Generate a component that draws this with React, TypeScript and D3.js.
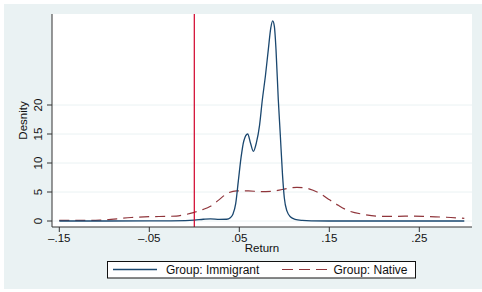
import React from "react";
import * as d3 from "d3";

// kernel density estimates
const immigrantX = [-0.15, -0.1, -0.05, -0.01, 0.0, 0.01, 0.018, 0.028, 0.036, 0.04, 0.043, 0.046, 0.049, 0.052, 0.055, 0.0593, 0.0625, 0.0656, 0.069, 0.0725, 0.0756, 0.079, 0.0822, 0.085, 0.0871, 0.089, 0.0908, 0.0933, 0.0955, 0.098, 0.1, 0.103, 0.107, 0.112, 0.12, 0.13, 0.15, 0.2, 0.3];
const immigrantY = [0.0, 0.0, 0.02, 0.08, 0.15, 0.3, 0.38, 0.28, 0.3, 0.55, 1.2, 3, 7, 11, 13.8, 15, 13.4, 12, 13.5, 16.5, 20.9, 25, 29.5, 33.3, 34.5, 33.5, 29.5, 21, 15, 8, 4, 1.7, 0.7, 0.3, 0.1, 0.02, 0, 0, 0];

const nativeX = [-0.15, -0.12, -0.105, -0.095, -0.086, -0.07, -0.05, -0.03, -0.02, -0.01, 0.0, 0.01, 0.0174, 0.027, 0.036, 0.047, 0.06, 0.073, 0.085, 0.1, 0.114, 0.125, 0.132, 0.14, 0.1508, 0.16, 0.1693, 0.1878, 0.2063, 0.225, 0.2433, 0.26, 0.28, 0.3];
const nativeY = [0.1, 0.1, 0.15, 0.25, 0.38, 0.6, 0.75, 0.8, 0.85, 1.1, 1.5, 2.0, 2.5, 3.6, 4.7, 5.2, 5.2, 5.05, 5.1, 5.5, 5.8, 5.65, 5.3, 4.7, 3.6, 2.7, 1.9, 1.15, 0.8, 0.8, 0.85, 0.75, 0.65, 0.45];

const xTicks = [-0.15, -0.05, 0.05, 0.15, 0.25];
const xTickLabels = ["\u2013.15", "\u2013.05", ".05", ".15", ".25"];
const yTicks = [0, 5, 10, 15, 20];
const refLine = 0;

const W = 482;
const H = 292;
const plot = { left: 52, right: 472, top: 14, bottom: 227 };
const bg = "#eaf2f3";
const font = "Liberation Sans, Arial, sans-serif";

const App = () => {
  const x = d3.scaleLinear().domain([-0.15, 0.3]).range([59.3, 464.3]);
  const y = d3.scaleLinear().domain([0, 5]).range([221, 192]);
  const line = d3
    .line<[number, number]>()
    .x(d => x(d[0]))
    .y(d => y(d[1]))
    .curve(d3.curveMonotoneX);
  const imm = immigrantX.map((v, i) => [v, immigrantY[i]] as [number, number]);
  const nat = nativeX.map((v, i) => [v, nativeY[i]] as [number, number]);
  const midX = (plot.left + plot.right) / 2;
  const midY = (plot.top + plot.bottom) / 2;

  return (
    <svg width={W} height={H} style={{ position: "absolute", left: 0, top: 0 }} fontFamily={font}>
      <rect x={4} y={4} width={W - 4} height={285} fill={bg} />
      <rect x={plot.left} y={plot.top} width={plot.right - plot.left} height={plot.bottom - plot.top} fill="white" />
      {yTicks.map(t => (
        <g key={t}>
          <line x1={plot.left} x2={plot.right} y1={y(t)} y2={y(t)} stroke={bg} strokeWidth={1} />
          <line x1={plot.left - 5} x2={plot.left} y1={y(t)} y2={y(t)} stroke="#333" />
          <text
            transform={`translate(${41.5} ${y(t)}) rotate(-90)`}
            textAnchor="middle"
            fontSize={11.5}
            fill="#111"
          >
            {t}
          </text>
        </g>
      ))}
      <path d={line(nat) || ""} fill="none" stroke="#90353b" strokeWidth={1.2} strokeDasharray="10 6" />
      <path d={line(imm) || ""} fill="none" stroke="#1a476f" strokeWidth={1.3} />
      <line x1={x(refLine)} x2={x(refLine)} y1={plot.top} y2={plot.bottom} stroke="#d1002a" strokeWidth={1.2} />
      <line x1={plot.left} x2={plot.left} y1={plot.top} y2={plot.bottom} stroke="#333" />
      <line x1={plot.left} x2={plot.right} y1={plot.bottom} y2={plot.bottom} stroke="#333" />
      {xTicks.map((t, i) => (
        <g key={t}>
          <line x1={x(t)} x2={x(t)} y1={plot.bottom} y2={plot.bottom + 5} stroke="#333" />
          <text x={x(t)} y={242} textAnchor="middle" fontSize={11.5} fill="#111">
            {xTickLabels[i]}
          </text>
        </g>
      ))}
      <text x={midX} y={252} textAnchor="middle" fontSize={11.5} fill="#111">Return</text>
      <text
        transform={`translate(${27} ${midY}) rotate(-90)`}
        textAnchor="middle"
        fontSize={11.5}
        fill="#111"
      >
        Desnity
      </text>
      <g>
        <rect x={107.5} y={261.5} width={308} height={16.5} fill="white" stroke="#111" />
        <line x1={113} x2={157} y1={269.5} y2={269.5} stroke="#1a476f" strokeWidth={1.3} />
        <text x={166} y={273.7} fontSize={12} fill="#111">Group: Immigrant</text>
        <line x1={282} x2={327} y1={269.5} y2={269.5} stroke="#90353b" strokeWidth={1.2} strokeDasharray="11 6" />
        <text x={333.5} y={273.7} fontSize={12} fill="#111">Group: Native</text>
      </g>
    </svg>
  );
};

export default App;
